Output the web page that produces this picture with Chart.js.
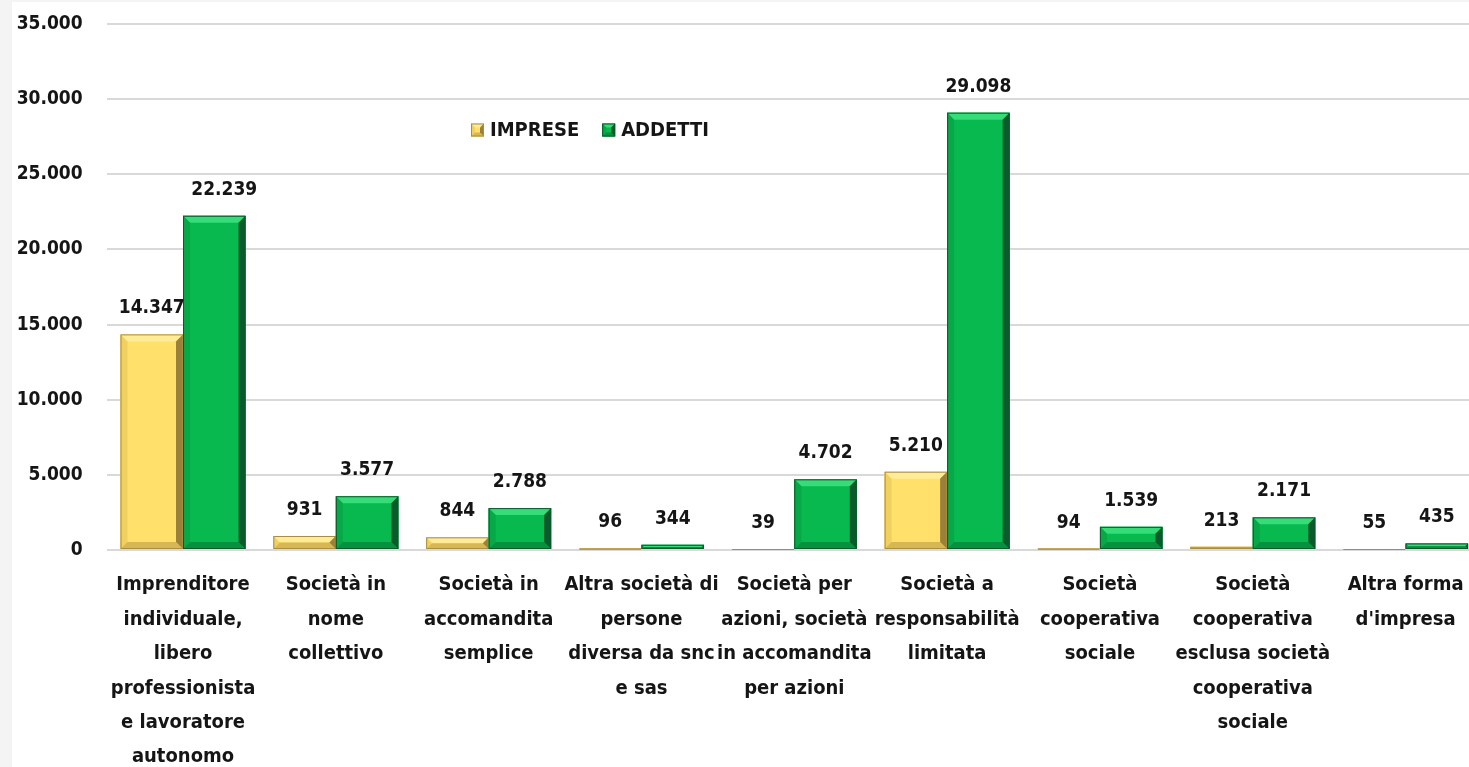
<!DOCTYPE html>
<html><head><meta charset="utf-8">
<script src="https://cdn.jsdelivr.net/npm/chart.js@4.4.1/dist/chart.umd.min.js"></script>
<style>
html,body{margin:0;padding:0;background:#f4f4f4;overflow:hidden;width:1469px;height:767px;}
#wrap{position:absolute;left:12px;top:2px;width:1470px;height:765px;background:#fff;}
</style></head><body><div id="wrap"><canvas id="c"></canvas></div>
<script>
const categories = [
  ["Imprenditore","individuale,","libero","professionista","e lavoratore","autonomo"],
  ["Società in","nome","collettivo"],
  ["Società in","accomandita","semplice"],
  ["Altra società di","persone","diversa da snc","e sas"],
  ["Società per","azioni, società","in accomandita","per azioni"],
  ["Società a","responsabilità","limitata"],
  ["Società","cooperativa","sociale"],
  ["Società","cooperativa","esclusa società","cooperativa","sociale"],
  ["Altra forma","d'impresa"]
];
const impreseValues = [14347, 931, 844, 96, 39, 5210, 94, 213, 55];
const addettiValues = [22239, 3577, 2788, 344, 4702, 29098, 1539, 2171, 435];
const seriesNames = ["IMPRESE", "ADDETTI"];
const yMin = 0, yMax = 35000, yStep = 5000;

const FONT = "'DejaVu Sans Condensed','DejaVu Sans',sans-serif";
const TXT = '#151515';
const palette = {
  yellow: {base:'#FFE06B', top:'#FFEC98', right:'#9A8039', bottom:'#D6B752', left:'#F0D060', edge:'#A88D45'},
  green:  {base:'#07B94F', top:'#35DC78', right:'#0B5A2C', bottom:'#06913F', left:'#07A847', edge:'#0A5A2B'}
};
const fmt = v => String(v).replace(/\B(?=(\d{3})+(?!\d))/g, '.');
// small manual nudge of one value label (dataset-index, category-index -> px), as in the original
const labelNudge = {'1-0': 10};

function bevel(ctx, l, t, r, bot, c, maxB) {
  const h = bot - t, w = r - l;
  if (h <= 0 || w <= 0) return;
  const b = Math.min(maxB, h / 2, w / 2);
  ctx.save();
  ctx.fillStyle = c.base; ctx.fillRect(l, t, w, h);
  const poly = (pts, col) => { ctx.beginPath(); ctx.moveTo(pts[0][0], pts[0][1]); for (let i=1;i<pts.length;i++) ctx.lineTo(pts[i][0], pts[i][1]); ctx.closePath(); ctx.fillStyle = col; ctx.fill(); };
  poly([[l,t],[r,t],[r-b,t+b],[l+b,t+b]], c.top);
  poly([[l,t],[l+b,t+b],[l+b,bot-b],[l,bot]], c.left);
  poly([[l,bot],[l+b,bot-b],[r-b,bot-b],[r,bot]], c.bottom);
  poly([[r,t],[r,bot],[r-b,bot-b],[r-b,t+b]], c.right);
  ctx.strokeStyle = c.edge; ctx.lineWidth = 1;
  ctx.strokeRect(l+0.5, t+0.5, w-1, Math.max(h-1,0));
  ctx.restore();
}

const bevelPlugin = {
  id: 'bevelBars',
  afterDatasetsDraw(chart) {
    const ctx = chart.ctx;
    chart.data.datasets.forEach((ds, i) => {
      const meta = chart.getDatasetMeta(i);
      const c = i === 0 ? palette.yellow : palette.green;
      meta.data.forEach(el => {
        const p = el.getProps(['x','y','base','width'], true);
        bevel(ctx, p.x - p.width/2, Math.min(p.y,p.base), p.x + p.width/2, Math.max(p.y,p.base), c, 7);
      });
    });
    ctx.save();
    ctx.font = 'bold 19px ' + FONT;
    ctx.fillStyle = TXT; ctx.textAlign = 'center'; ctx.textBaseline = 'middle';
    chart.data.datasets.forEach((ds, i) => {
      const meta = chart.getDatasetMeta(i);
      meta.data.forEach((el, j) => {
        const p = el.getProps(['x','y'], true);
        ctx.fillText(fmt(ds.data[j]), p.x + (labelNudge[i + '-' + j] || 0), p.y - 26);
      });
    });
    ctx.restore();
  }
};

const legendPlugin = {
  id: 'customLegend',
  afterDraw(chart) {
    const ctx = chart.ctx, ca = chart.chartArea;
    let x = ca.left + 364.4;
    const y = ca.top + 106;
    ctx.save();
    ctx.font = 'bold 20px ' + FONT;
    ctx.textBaseline = 'middle'; ctx.textAlign = 'left';
    seriesNames.forEach((name, i) => {
      const c = i === 0 ? palette.yellow : palette.green;
      bevel(ctx, x, y - 6.5, x + 13, y + 6.5, c, 4);
      ctx.fillStyle = TXT;
      ctx.fillText(name, x + 19, y + 1);
      x += 19 + ctx.measureText(name).width + 23;
    });
    ctx.restore();
  }
};

new Chart(document.getElementById('c'), {
  type: 'bar',
  data: {
    labels: categories,
    datasets: [
      {label: seriesNames[0], data: impreseValues, backgroundColor: palette.yellow.base, borderWidth: 0, barPercentage: 1, categoryPercentage: 0.818},
      {label: seriesNames[1], data: addettiValues, backgroundColor: palette.green.base, borderWidth: 0, barPercentage: 1, categoryPercentage: 0.818}
    ]
  },
  options: {
    responsive: true, maintainAspectRatio: false, animation: false, devicePixelRatio: 1,
    layout: {padding: {top: 22, right: 0, bottom: 0, left: 0}},
    plugins: {legend: {display: false}, tooltip: {enabled: false}},
    scales: {
      x: {
        grid: {display: false, drawTicks: false}, border: {display: false},
        ticks: {font: {family: FONT, size: 20, weight: 'bold', lineHeight: '34.4px'}, color: TXT, padding: 18, maxRotation: 0, autoSkip: false},
        afterFit: s => { s.height = 217; }
      },
      y: {
        min: yMin, max: yMax,
        grid: {color: '#d9d9d9', lineWidth: 2, drawTicks: true, tickLength: 24, tickColor: 'rgba(0,0,0,0)'}, border: {display: false},
        ticks: {stepSize: yStep, font: {family: FONT, size: 19, weight: 'bold'}, color: TXT, padding: 0, callback: v => fmt(v)},
        afterFit: s => { s.width = 94.6; }
      }
    }
  },
  plugins: [bevelPlugin, legendPlugin]
});
</script></body></html>
